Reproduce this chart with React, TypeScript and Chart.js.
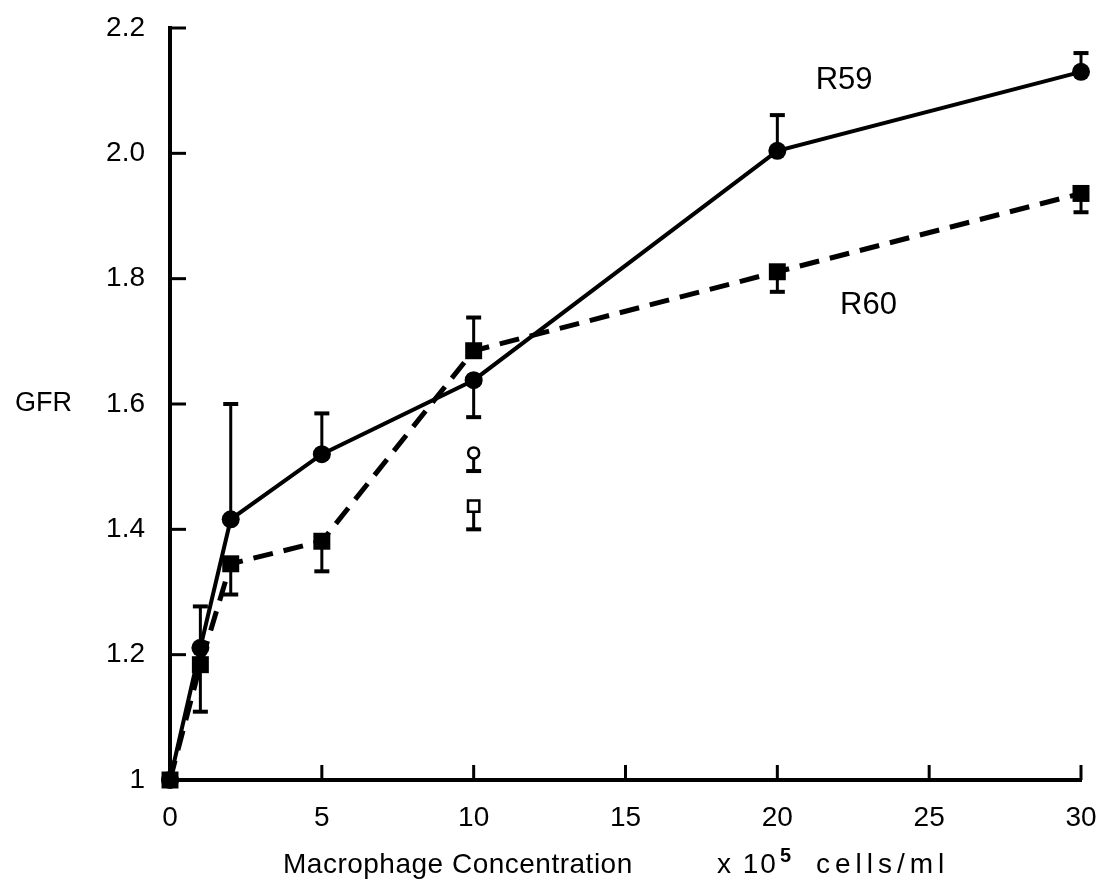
import React, { useEffect, useRef } from "react";
import { Chart, registerables } from "chart.js";

Chart.register(...registerables);

// ---- data ----
const concentrations = [0, 1, 2, 5, 10, 20, 30];
const r59Values = [1, 1.211, 1.416, 1.52, 1.638, 2.004, 2.13];
const r59ErrorEnds = [null, 1.277, 1.6, 1.585, 1.579, 2.061, 2.16];
const r60Values = [1, 1.184, 1.345, 1.381, 1.685, 1.811, 1.936];
const r60ErrorEnds = [null, 1.109, 1.296, 1.333, 1.738, 1.779, 1.906];
const openCircleX = [10];
const openCircleValues = [1.522];
const openCircleErrorEnds = [1.493];
const openSquareX = [10];
const openSquareValues = [1.437];
const openSquareErrorEnds = [1.4];
const xTickValues = [0, 5, 10, 15, 20, 25, 30];
const xTickLabels = ["0", "5", "10", "15", "20", "25", "30"];
const yTickValues = [1, 1.2, 1.4, 1.6, 1.8, 2.0, 2.2];
const yTickLabels = ["1", "1.2", "1.4", "1.6", "1.8", "2.0", "2.2"];
const seriesLabels = ["R59", "R60"];
const yTitle = "GFR";
const xTitleMain = "Macrophage Concentration";
const xTitleUnitPre = "x 10";
const xTitleUnitExp = "5";
const xTitleUnitPost = "cells/ml";

const FONT = "'Liberation Sans', Arial, Helvetica, sans-serif";

const toPoints = (xs: number[], ys: number[]) => xs.map((x, i) => ({ x, y: ys[i] }));

const errorBarPlugin = {
  id: "errorBars",
  beforeDatasetsDraw(chart: any) {
    const ctx = chart.ctx;
    const xs = chart.scales.x;
    const ys = chart.scales.y;
    const groups: [number[], number[], (number | null)[]][] = [
      [concentrations, r59Values, r59ErrorEnds],
      [concentrations, r60Values, r60ErrorEnds],
      [openCircleX, openCircleValues, openCircleErrorEnds],
      [openSquareX, openSquareValues, openSquareErrorEnds],
    ];
    ctx.save();
    ctx.strokeStyle = "#000";
    ctx.lineCap = "butt";
    for (const [gx, gv, ge] of groups) {
      gx.forEach((xv, i) => {
        const e = ge[i];
        if (e == null) return;
        const px = xs.getPixelForValue(xv);
        const p0 = ys.getPixelForValue(gv[i]);
        const p1 = ys.getPixelForValue(e);
        ctx.lineWidth = 3;
        ctx.beginPath();
        ctx.moveTo(px, p0);
        ctx.lineTo(px, p1);
        ctx.stroke();
        ctx.lineWidth = 4;
        ctx.beginPath();
        ctx.moveTo(px - 7.5, p1);
        ctx.lineTo(px + 7.5, p1);
        ctx.stroke();
      });
    }
    ctx.restore();
  },
};

const decorPlugin = {
  id: "decor",
  afterDraw(chart: any) {
    const ctx = chart.ctx;
    const xs = chart.scales.x;
    const ys = chart.scales.y;
    const area = chart.chartArea;
    ctx.save();
    ctx.strokeStyle = "#000";
    ctx.lineWidth = 3;
    // inward ticks
    yTickValues.forEach((v) => {
      const py = ys.getPixelForValue(v);
      ctx.beginPath();
      ctx.moveTo(area.left, py);
      ctx.lineTo(area.left + 16, py);
      ctx.stroke();
    });
    xTickValues.forEach((v) => {
      const px = xs.getPixelForValue(v);
      ctx.beginPath();
      ctx.moveTo(px, area.bottom);
      ctx.lineTo(px, area.bottom - 15);
      ctx.stroke();
    });
    ctx.fillStyle = "#000";
    // series labels
    ctx.font = `31px ${FONT}`;
    ctx.textAlign = "center";
    ctx.textBaseline = "middle";
    ctx.fillText(seriesLabels[0], xs.getPixelForValue(22.2), ys.getPixelForValue(2.116));
    ctx.fillText(seriesLabels[1], xs.getPixelForValue(23.0), ys.getPixelForValue(1.758));
    // y title
    ctx.font = `27px ${FONT}`;
    ctx.textAlign = "left";
    ctx.fillText(yTitle, 15, ys.getPixelForValue(1.6));
    // x title
    ctx.textBaseline = "alphabetic";
    const base = 873;
    ctx.font = `28px ${FONT}`;
    (ctx as any).letterSpacing = "0.5px";
    ctx.fillText(xTitleMain, 283, base);
    (ctx as any).letterSpacing = "2px";
    ctx.fillText(xTitleUnitPre, 717, base);
    ctx.font = `bold 20px ${FONT}`;
    (ctx as any).letterSpacing = "0px";
    ctx.fillText(xTitleUnitExp, 780, base - 11);
    ctx.font = `28px ${FONT}`;
    (ctx as any).letterSpacing = "5px";
    ctx.fillText(xTitleUnitPost, 816, base);
    (ctx as any).letterSpacing = "0px";
    ctx.restore();
  },
};

export default function App() {
  const ref = useRef<HTMLCanvasElement | null>(null);
  useEffect(() => {
    if (!ref.current) return;
    const chart = new Chart(ref.current, {
      type: "line",
      data: {
        datasets: [
          {
            label: seriesLabels[1],
            data: toPoints(concentrations, r60Values),
            borderColor: "#000",
            backgroundColor: "#000",
            borderWidth: 5,
            borderDash: [20, 11],
            pointStyle: "rect",
            pointRadius: 12,
            pointBorderWidth: 0,
            pointBackgroundColor: "#000",
            tension: 0,
            clip: false,
          } as any,
          {
            label: seriesLabels[0],
            data: toPoints(concentrations, r59Values),
            borderColor: "#000",
            backgroundColor: "#000",
            borderWidth: 4,
            pointStyle: "circle",
            pointRadius: 9,
            pointBorderWidth: 0,
            pointBackgroundColor: "#000",
            tension: 0,
            clip: false,
          } as any,
          {
            label: "open circle",
            data: toPoints(openCircleX, openCircleValues),
            showLine: false,
            pointStyle: "circle",
            pointRadius: 5.5,
            pointBorderWidth: 2.5,
            pointBorderColor: "#000",
            pointBackgroundColor: "#fff",
            clip: false,
          } as any,
          {
            label: "open square",
            data: toPoints(openSquareX, openSquareValues),
            showLine: false,
            pointStyle: "rect",
            pointRadius: 8,
            pointBorderWidth: 2.5,
            pointBorderColor: "#000",
            pointBackgroundColor: "#fff",
            clip: false,
          } as any,
        ],
      },
      options: {
        responsive: false,
        animation: false,
        devicePixelRatio: 1,
        layout: { padding: { left: 0, right: 20, top: 28, bottom: 0 } },
        plugins: { legend: { display: false }, tooltip: { enabled: false } },
        scales: {
          x: {
            type: "linear",
            min: 0,
            max: 30,
            afterFit: (s: any) => {
              s.height = 102;
              s.paddingLeft = 0;
              s.paddingRight = 0;
            },
            afterBuildTicks: (s: any) => {
              s.ticks = xTickValues.map((v) => ({ value: v }));
            },
            grid: { display: false, drawTicks: false },
            border: { display: true, color: "#000", width: 4 },
            ticks: {
              color: "#000",
              padding: 21,
              maxRotation: 0,
              font: { family: FONT, size: 28 },
              callback: (_v: any, i: number) => xTickLabels[i],
            },
          },
          y: {
            type: "linear",
            min: 1,
            max: 2.2,
            afterFit: (s: any) => {
              s.width = 170;
              s.paddingTop = 0;
              s.paddingBottom = 0;
            },
            afterBuildTicks: (s: any) => {
              s.ticks = yTickValues.map((v) => ({ value: v }));
            },
            grid: { display: false, drawTicks: false },
            border: { display: true, color: "#000", width: 4 },
            ticks: {
              color: "#000",
              padding: 25,
              font: { family: FONT, size: 28 },
              callback: (_v: any, i: number) => yTickLabels[i],
            },
          },
        },
      } as any,
      plugins: [errorBarPlugin, decorPlugin],
    });
    return () => chart.destroy();
  }, []);
  return (
    <div style={{ position: "absolute", left: 0, top: 0, width: 1101, height: 882, background: "#fff" }}>
      <canvas ref={ref} width={1101} height={882} />
    </div>
  );
}
